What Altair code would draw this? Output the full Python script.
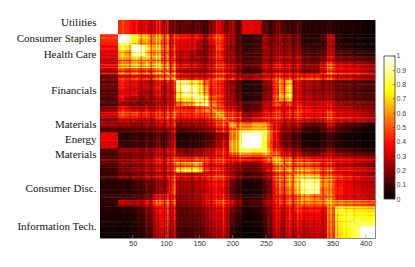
import bisect
import altair as alt
import pandas as pd

edges = [1,14,28,38,48,58,69,80,92,104,115,125,135,145,155,164,175,185,195,205,214,229,244,252,260,270,280,290,303,317,331,342,354,366,380,392,403,414]

# lower triangle of the matrix, in percent
rows = [
[100],
[100,100],
[43,43,100],
[43,43,98,100],
[36,36,75,72,98],
[33,33,66,62,95,98],
[30,30,58,58,68,66,62],
[30,30,52,54,60,56,58,55],
[28,28,50,46,50,46,46,50,50],
[16,16,36,34,38,35,35,40,46,48],
[14,14,40,36,34,30,26,30,32,36,92],
[15,15,36,32,30,28,27,30,25,32,85,95],
[12,12,34,33,33,25,22,28,26,30,82,90,92],
[14,14,36,28,26,20,24,25,24,32,76,78,85,95],
[10,10,22,20,18,17,20,22,25,30,55,60,68,85,98],
[22,22,40,38,30,30,32,30,34,38,45,40,42,50,60,55],
[28,28,42,40,40,36,36,34,36,40,38,36,38,40,42,46,50],
[20,20,30,30,28,26,26,30,36,36,30,28,30,30,32,42,44,50],
[22,22,20,22,18,20,22,22,26,32,18,20,20,22,24,32,36,42,55],
[12,12,12,12,14,14,16,18,18,26,12,12,14,16,20,24,32,38,50,62],
[34,34,5,6,8,8,10,12,10,22,4,5,5,6,10,14,18,24,50,70,100],
[32,32,8,8,10,10,12,14,12,26,6,6,7,8,14,18,22,30,58,75,100,100],
[12,12,22,22,22,20,22,24,26,30,20,16,18,20,26,30,30,36,56,72,80,76,78],
[10,10,18,18,20,20,20,24,24,32,24,20,22,24,30,32,34,40,46,58,60,56,62,60],
[14,14,18,18,20,20,22,28,28,36,42,38,40,44,44,36,36,38,30,36,32,30,38,50,55],
[14,14,20,20,20,22,26,28,30,38,55,52,60,62,40,34,32,34,24,24,18,20,30,36,50,52],
[8,8,18,18,20,22,24,26,28,36,66,66,70,68,44,38,34,32,22,20,14,16,24,34,46,52,55],
[10,10,16,16,18,20,24,24,26,34,30,28,28,30,34,40,36,36,22,18,10,12,18,26,38,44,50,55],
[6,6,6,6,10,12,16,18,20,40,26,24,24,28,32,40,32,34,14,10,4,5,12,20,40,50,58,66,95],
[6,6,6,6,8,10,14,18,22,42,24,22,22,26,30,36,30,30,12,8,3,4,10,18,36,46,52,62,92,95],
[7,7,10,10,10,14,18,30,34,36,20,20,22,24,34,36,32,36,16,14,6,8,14,24,34,38,44,46,62,56,50],
[6,6,24,24,22,24,28,38,42,36,18,18,20,22,30,34,34,38,24,18,8,10,18,26,30,36,42,42,50,48,50,50],
[5,5,6,6,8,12,18,28,38,30,14,14,16,18,24,30,28,34,16,12,5,6,12,22,32,30,36,40,40,42,38,50,80],
[4,4,4,4,6,10,16,26,36,30,14,14,14,16,22,30,26,32,12,8,3,4,10,20,30,28,36,34,36,36,34,48,76,82],
[4,4,3,3,5,8,14,24,34,26,12,12,12,14,20,26,24,30,10,6,2,3,8,18,28,24,32,30,30,32,32,46,74,80,85],
[3,3,2,2,4,7,12,22,30,24,10,10,10,12,18,24,22,28,7,4,1,2,6,16,26,22,30,26,28,30,30,44,72,78,85,100],
[2,2,2,2,3,6,10,20,28,22,10,10,10,12,16,22,20,26,5,3,1,1,5,14,24,20,28,24,26,28,28,42,70,76,84,100,100],
]

# thin stripes: first index, last index, brightness factor
stripes = [
(34,36,1.15),(45,47,0.8),(55,57,1.15),(62,64,0.75),(70,72,1.25),(77,79,0.65),(85,87,1.4),(90,92,1.45),
(97,99,0.6),(102,104,1.4),(106,108,0.6),(112,114,1.5),(121,123,0.75),(128,130,1.15),(138,140,0.75),
(144,146,1.15),(150,152,0.8),(157,159,0.7),(167,169,0.6),(175,177,1.4),(180,182,1.25),(185,187,1.4),
(191,193,0.65),(199,201,1.3),(207,209,0.7),(211,213,1.25),(249,251,1.15),(257,259,0.7),(265,267,1.35),
(270,272,1.35),(277,279,0.6),(285,287,1.3),(290,292,0.6),(297,299,1.4),(302,304,1.2),(307,309,0.8),
(322,324,0.85),(335,337,0.7),(342,344,1.35),(347,349,1.4),(357,359,0.85),(370,372,0.9),(382,384,0.9),
]
diag_from = [70, 164, 244, 331]
diag_to = [115, 214, 303, 392]

sector_pos = [6, 36, 66, 135, 199, 228, 256, 321, 393]
sector_names = ["Utilities", "Consumer Staples", "Health Care", "Financials", "Materials", "Energy", "Materials", "Consumer Disc.", "Information Tech."]
x_ticks = [50, 100, 150, 200, 250, 300, 350, 400]
bar_ticks = [0, 0.1, 0.2, 0.3, 0.4, 0.5, 0.6, 0.7, 0.8, 0.9, 1]
bar_steps = [i / 100 for i in range(100)]

hot = alt.Scale(domain=[0, 0.375, 0.75, 1], range=["#000000", "#ff0000", "#ffff00", "#ffffff"], interpolate="rgb", clamp=True)

fine = sorted(set(edges) | {s[0] for s in stripes} | {s[1] for s in stripes})

def base(a, b):
    i = bisect.bisect_right(edges, a) - 1
    j = bisect.bisect_right(edges, b) - 1
    if i < j:
        i, j = j, i
    return rows[i][j] / 100

def gain(a):
    for s, e, g in stripes:
        if s <= a < e:
            return g
    return 1.0

cells = []
for a, a2 in zip(fine[:-1], fine[1:]):
    for b, b2 in zip(fine[:-1], fine[1:]):
        cells.append(dict(x=b, x2=b2 + 0.8, y=a, y2=a2 + 0.8, v=round(base(a, b) * gain(a) * gain(b), 3)))
df = pd.DataFrame(cells)

label_expr = "{" + ",".join(f"'{p}':'{n}'" for p, n in zip(sector_pos, sector_names)) + "}[datum.value]"

xs = alt.Scale(domain=[1, 414], nice=False)
ys = alt.Scale(domain=[414, 1], nice=False)
x_axis = alt.Axis(values=x_ticks, title=None, grid=False, ticks=False, domain=False, labelOverlap=False,
                  labelFont="Liberation Sans", labelFontSize=7.5, labelColor="#333", labelPadding=1, format="d")
y_axis = alt.Axis(values=sector_pos, title=None, grid=False, ticks=False, domain=False, labelOverlap=False,
                  labelExpr=label_expr, labelFont="Liberation Serif", labelFontSize=11,
                  labelColor="#111", labelPadding=4, minExtent=91, maxExtent=91)

heat = alt.Chart(df).mark_rect(clip=True).encode(
    x=alt.X("x:Q", scale=xs, axis=x_axis),
    x2="x2:Q",
    y=alt.Y("y:Q", scale=ys, axis=y_axis),
    y2="y2:Q",
    color=alt.Color("v:Q", scale=hot, legend=None),
)
diag = alt.Chart(pd.DataFrame({"a": diag_from, "b": diag_to})).mark_rule(color="#ffc090", strokeWidth=0.7, opacity=0.75).encode(
    x=alt.X("a:Q", scale=xs, axis=x_axis), x2="b:Q", y=alt.Y("a:Q", scale=ys, axis=y_axis), y2="b:Q")
xtick = alt.Chart(pd.DataFrame({"x": x_ticks})).mark_rule(color="#888", strokeWidth=0.6).encode(
    x=alt.X("x:Q", scale=xs, axis=x_axis), y=alt.value(218), y2=alt.value(215))
main = alt.layer(heat, diag, xtick).properties(width=275, height=218)

by = alt.Scale(domain=[-0.2727, 1.2517], nice=False)
b_axis = alt.Axis(orient="right", values=bar_ticks, title=None, grid=False, ticks=False, domain=False, labelOverlap=False,
                  labelFont="Liberation Sans", labelFontSize=7, labelColor="#444", labelPadding=1,
                  labelExpr="datum.value")
grad = alt.Chart(pd.DataFrame({"a": bar_steps, "b": [s + 0.015 for s in bar_steps]})).mark_rect().encode(
    y=alt.Y("a:Q", scale=by, axis=b_axis),
    y2="b:Q",
    x=alt.value(0), x2=alt.value(11),
    color=alt.Color("a:Q", scale=hot, legend=None),
)
frame = alt.Chart(pd.DataFrame({"a": [0], "b": [1]})).mark_rect(fill=None, stroke="#333", strokeWidth=0.8).encode(
    y=alt.Y("a:Q", scale=by, axis=b_axis), y2="b:Q", x=alt.value(0), x2=alt.value(11))
btick = alt.Chart(pd.DataFrame({"a": bar_ticks})).mark_rule(color="#333", strokeWidth=0.6).encode(
    y=alt.Y("a:Q", scale=by, axis=b_axis), x=alt.value(9), x2=alt.value(11))
bar = alt.layer(grad, frame, btick).properties(width=11, height=218, view=alt.ViewConfig(stroke=None))

chart = alt.hconcat(main, bar, spacing=7).resolve_scale(color="independent", y="independent", x="independent").properties(
    padding={"left": 0, "top": 8, "right": 0, "bottom": 0}, background="white"
).configure_view(stroke="#888", strokeWidth=1)

chart.save("out.html", embed_options={"renderer": "svg", "actions": False})
